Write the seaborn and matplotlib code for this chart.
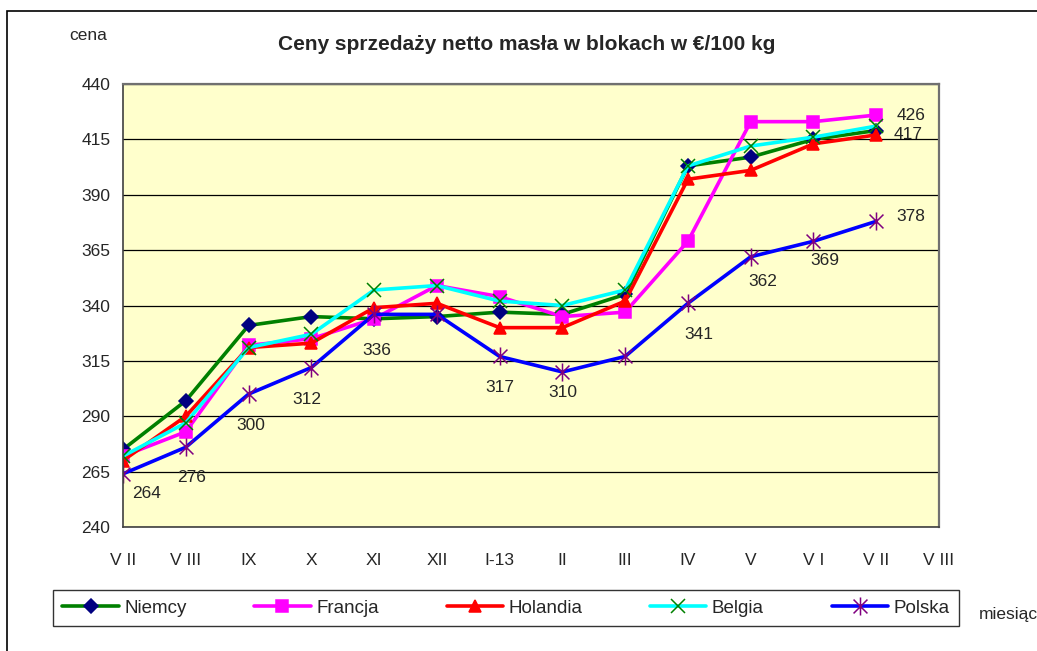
import matplotlib
matplotlib.use("Agg")
import matplotlib.pyplot as plt
import seaborn as sns
from matplotlib.patches import Rectangle
from matplotlib.path import Path

# dane
miesiace = ["V II", "V III", "IX", "X", "XI", "XII", "I-13", "II", "III", "IV", "V", "V I", "V II", "V III"]
niemcy = [275, 297, 331, 335, 334, 335, 337, 336, 345, 403, 407, 415, 419]
francja = [272, 283, 322, 325, 334, 349, 344, 335, 337, 369, 423, 423, 426]
holandia = [270, 290, 321, 323, 339, 341, 330, 330, 342, 397, 401, 413, 417]
belgia = [272, 287, 321, 327, 347, 349, 342, 340, 347, 403, 412, 416, 421]
polska = [264, 276, 300, 312, 336, 336, 317, 310, 317, 341, 362, 369, 378]

sns.set_style("white")
plt.rcParams["font.family"] = ["Liberation Sans", "DejaVu Sans"]

# gwiazdka jak w Excelu: X + pionowa kreska
gwiazdka = Path([(-1, -1), (1, 1), (-1, 1), (1, -1), (0, -1.3), (0, 1.3)],
                [Path.MOVETO, Path.LINETO, Path.MOVETO, Path.LINETO, Path.MOVETO, Path.LINETO])

fig = plt.figure(figsize=(10.37, 6.51), dpi=100)
ax = fig.add_axes([123 / 1037, 1 - 527 / 651, (939 - 123) / 1037, (527 - 84) / 651])
ax.set_facecolor("#FFFFCC")

# ramka wykresu
fig.patches.append(Rectangle((7 / 1037, -0.1), 1.2, 1 - 11 / 651 + 0.1,
                             transform=fig.transFigure, fill=False,
                             edgecolor="black", linewidth=1.2, zorder=0))

x = list(range(len(niemcy)))
serie = [
    ("Niemcy", niemcy, "#008000", "D", "#000080", 7),
    ("Francja", francja, "#FF00FF", "s", "#FF00FF", 8),
    ("Holandia", holandia, "#FF0000", "^", "#FF0000", 9),
    ("Belgia", belgia, "#00FFFF", "x", "#008000", 10),
    ("Polska", polska, "#0000FF", gwiazdka, "#800080", 13),
]

for nazwa, wart, kolor, marker, mkolor, ms in serie:
    sns.lineplot(x=x, y=wart, ax=ax, color=kolor, linewidth=2.6,
                 marker=marker, markersize=ms, markerfacecolor=mkolor,
                 markeredgecolor=mkolor, markeredgewidth=1.1, label=nazwa)

ax.set_xlim(0, 13)
ax.set_ylim(240, 440)
ax.set_yticks(range(240, 441, 25))
ax.set_xticks(range(14))
ax.set_xticklabels(miesiace)
ax.tick_params(axis="both", labelsize=12.5, length=5, color="#808080",
               direction="out", pad=4)
ax.tick_params(axis="x", pad=14)
ax.grid(axis="y", color="black", linewidth=0.9)
ax.set_axisbelow(True)
for s in ["left", "bottom"]:
    ax.spines[s].set_color("#404040")
    ax.spines[s].set_linewidth(1.2)
for s in ["top", "right"]:
    ax.spines[s].set_color("#707070")
    ax.spines[s].set_linewidth(1.6)

# etykiety danych
etykiety_polska = [0, 1, 2, 3, 4, 6, 7, 9, 10, 11, 12]
przes_polska = [(24, -20), (6, -30), (2, -31), (-4, -32), (3, -36), (0, -31),
                (0, -21), (11, -31), (12, -25), (11, -19), (35, 5)]
for i, (dx, dy) in zip(etykiety_polska, przes_polska):
    ax.annotate(str(polska[i]), xy=(x[i], polska[i]), xytext=(dx, dy),
                textcoords="offset pixels", ha="center", va="center",
                fontsize=12.5, annotation_clip=False)
ax.annotate(str(francja[-1]), xy=(x[-1], francja[-1]), xytext=(35, 0),
            textcoords="offset pixels", ha="center", va="center",
            fontsize=12.5, annotation_clip=False)
ax.annotate(str(holandia[-1]), xy=(x[-1], holandia[-1]), xytext=(32, 0),
            textcoords="offset pixels", ha="center", va="center",
            fontsize=12.5, annotation_clip=False)

fig.text(527 / 1037, 1 - 45 / 651, "Ceny sprzedaży netto masła w blokach w €/100 kg",
         ha="center", va="center", fontsize=15, fontweight="bold")
fig.text(88 / 1037, 1 - 36 / 651, "cena", ha="center", va="center", fontsize=12.5)
fig.text(979 / 1037, 1 - 615 / 651, "miesiąc", ha="left", va="center", fontsize=12.5)

handles, labels = ax.get_legend_handles_labels()
ax.get_legend().remove()
leg = fig.legend(handles, labels, loc="lower left", ncol=5, mode="expand",
                 bbox_to_anchor=(53 / 1037, 1 - 626 / 651, 906 / 1037, 38 / 651),
                 fontsize=13.5, frameon=True, fancybox=False, handlelength=3.0,
                 handletextpad=0.3, borderaxespad=0, borderpad=0.5)
leg.get_frame().set_edgecolor("black")
leg.get_frame().set_linewidth(1.0)

fig.savefig("out.png", dpi=100)
